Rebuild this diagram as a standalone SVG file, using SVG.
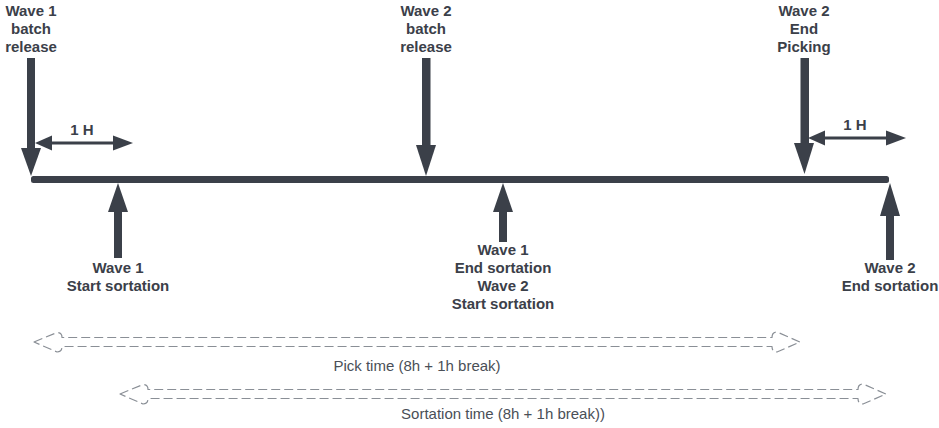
<svg xmlns="http://www.w3.org/2000/svg" width="939" height="428" viewBox="0 0 939 428">
  <style>
    .lbl { font-family: "Liberation Sans", Arial, sans-serif; font-size: 15px; font-weight: bold; fill: #3b4049; text-anchor: middle; }
    .note { font-family: "Liberation Sans", Arial, sans-serif; font-size: 15px; fill: #4a4f57; text-anchor: middle; }
    .solid { fill: #3b4049; }
    .thin { stroke: #3b4049; stroke-width: 3; fill: none; }
    .span { fill: none; stroke: #8a8f96; stroke-width: 1.2; stroke-dasharray: 9 4; stroke-linejoin: round; }
  </style>

  <!-- timeline axis -->
  <g id="connectors">
    <rect class="solid" x="31" y="176" width="858" height="7" rx="2.5"/>

    <!-- 1 H interval after wave 1 release -->
    <line class="thin" x1="48" y1="143" x2="118" y2="143"/>
    <polygon class="solid" points="35,143 52,135.5 52,150.5"/>
    <polygon class="solid" points="133,143 113,135.5 113,150.5"/>

    <!-- 1 H interval after wave 2 end picking -->
    <line class="thin" x1="821" y1="138" x2="891" y2="138"/>
    <polygon class="solid" points="808,138 825,130.5 825,145.5"/>
    <polygon class="solid" points="906,138 886,130.5 886,145.5"/>

    <!-- pick time span -->
    <path class="span" d="M34,342 L57,332.5 Q62,332.5 62,337.5 L772,337.5 Q772,332 777,332 L800,342 L777,352 Q772,352 772,346.5 L62,346.5 Q62,352 57,352 Z"/>
    <!-- sortation time span -->
    <path class="span" d="M120,394 L143,384.5 Q148,384.5 148,389.5 L858,389.5 Q858,384 863,384 L886,394 L863,404 Q858,404 858,398.5 L148,398.5 Q148,404 143,404 Z"/>
  </g>

  <g id="wave1-release">
    <text class="lbl" x="31" y="16">Wave 1</text>
    <text class="lbl" x="31" y="34">batch</text>
    <text class="lbl" x="31" y="52">release</text>
    <rect class="solid" x="27" y="58" width="8" height="92"/>
    <polygon class="solid" points="21,148 41,148 31,176"/>
  </g>
  <g id="wave1-1h">
    <text class="lbl" x="82" y="135">1 H</text>
  </g>

  <g id="wave2-release">
    <text class="lbl" x="426" y="16">Wave 2</text>
    <text class="lbl" x="426" y="34">batch</text>
    <text class="lbl" x="426" y="52">release</text>
    <rect class="solid" x="422" y="58" width="8.5" height="89"/>
    <polygon class="solid" points="416,145 436,145 426,176"/>
  </g>

  <g id="wave2-end-picking">
    <text class="lbl" x="804" y="16">Wave 2</text>
    <text class="lbl" x="804" y="34">End</text>
    <text class="lbl" x="804" y="52">Picking</text>
    <rect class="solid" x="800.5" y="58" width="8.5" height="87"/>
    <polygon class="solid" points="794,143 814,143 804.5,174"/>
  </g>
  <g id="wave2-1h">
    <text class="lbl" x="855" y="130">1 H</text>
  </g>

  <g id="wave1-start-sortation">
    <polygon class="solid" points="118,183 128,212 108,212"/>
    <rect class="solid" x="114" y="210" width="8" height="48"/>
    <text class="lbl" x="118" y="273">Wave 1</text>
    <text class="lbl" x="118" y="291">Start sortation</text>
  </g>

  <g id="wave1-end-wave2-start">
    <polygon class="solid" points="503,183 513,212 493,212"/>
    <rect class="solid" x="499" y="210" width="8" height="32"/>
    <text class="lbl" x="503" y="255">Wave 1</text>
    <text class="lbl" x="503" y="273">End sortation</text>
    <text class="lbl" x="503" y="291">Wave 2</text>
    <text class="lbl" x="503" y="309">Start sortation</text>
  </g>

  <g id="wave2-end-sortation">
    <polygon class="solid" points="890,183 900,216 880,216"/>
    <rect class="solid" x="886" y="214" width="8" height="46"/>
    <text class="lbl" x="890" y="273">Wave 2</text>
    <text class="lbl" x="890" y="291">End sortation</text>
  </g>

  <g id="pick-time">
    <text class="note" x="417" y="371">Pick time (8h + 1h break)</text>
  </g>
  <g id="sortation-time">
    <text class="note" x="503" y="419">Sortation time (8h + 1h break))</text>
  </g>
</svg>
